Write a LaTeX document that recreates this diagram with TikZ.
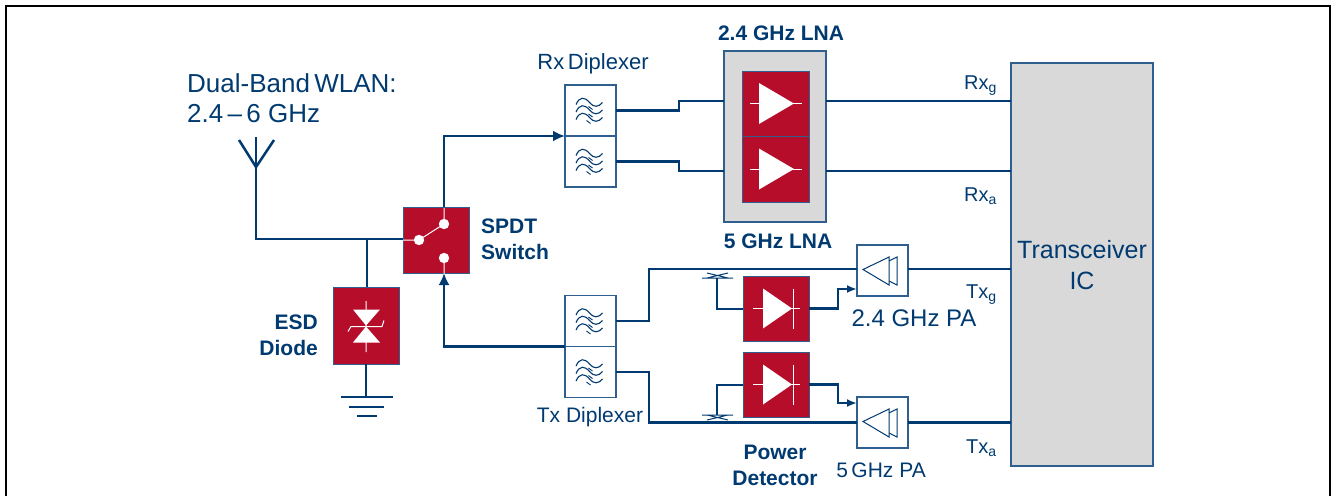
\documentclass[tikz,border=0pt]{standalone}
\usepackage{fontspec}
\setmainfont{Liberation Sans}
\usetikzlibrary{arrows.meta,positioning,calc}
\definecolor{RfNavy}{HTML}{003A70}
\definecolor{RfEdge}{HTML}{2F5F8F}
\definecolor{RfRed}{HTML}{B50D2A}
\definecolor{RfGray}{HTML}{D9D9D9}
\tikzset{
  wire/.style={draw=RfNavy,line width=2.5pt},
  feed/.style={wire,-{Latex[length=12pt,width=11pt]}},
  tap/.style={wire,-{Latex[length=10pt,width=8pt]}},
  redbox/.style={draw=RfEdge,line width=1pt,fill=RfRed,inner sep=0pt,outer sep=0pt},
  whitebox/.style={draw=RfEdge,line width=1.2pt,fill=white,inner sep=0pt,outer sep=0pt,minimum width=51pt,minimum height=51pt},
  graybox/.style={draw=RfEdge,line width=1.2pt,fill=RfGray,inner sep=0pt,outer sep=0pt},
  big/.style={text=RfNavy,align=center,inner sep=0pt,font=\fontsize{25}{31}\selectfont},
  small/.style={text=RfNavy,align=center,inner sep=0pt,font=\fontsize{21}{26}\selectfont},
  port/.style={text=RfNavy,inner sep=0pt,font=\fontsize{20}{24}\selectfont},
  heading/.style={text=RfNavy,align=center,inner sep=0pt,font=\bfseries\fontsize{21}{26}\selectfont},
  filtersym/.pic={
    \foreach \y in {-6,1.5,9}{\draw[RfNavy,line width=1.1pt] (-14.5,\y) .. controls (-11,\y-8) and (-6,\y-8) .. (-1,\y-2) .. controls (3,\y+3) and (8,\y+3) .. (12,\y-2);}
    \draw[RfNavy,line width=.9pt] (-2,-4)--(2,-1) (-2,3.5)--(2,6.5) (-4,10)--(0,13);
  },
  ampsym/.pic={
    \draw[white,line width=1pt] (-26,0)--(26,0);
    \fill[white] (-16.5,-20.5)--(18.5,0)--(-16.5,20.5)--cycle;
  },
  detsym/.pic={
    \draw[white,line width=1pt] (-23,0)--(24,0) (17,-20)--(17,20);
    \fill[white] (-13,-20)--(16,0)--(-13,20)--cycle;
  },
  pasym/.pic={
    \draw[RfNavy,line width=1pt,fill=white] (-19.5,-1)--(6.5,-13.5)--(6.5,14.5)--cycle;
    \draw[RfNavy,line width=1pt] (6.5,-9.5)--(14.5,-13.5)--(14.5,14.5)--(6.5,10.5);
  },
  couplersym/.pic={
    \draw[RfNavy,line width=1pt] (-15,0)--(16,0) (-10,-5)--(11,0) (-10,0)--(11,-5);
  },
  esdsym/.pic={
    \draw[white,line width=1pt] (0,-24.5)--(0,26.5) (-18,6)--(-15,1)--(16,1)--(18,-5);
    \fill[white] (-13,-16)--(14,-16)--(0,0)--cycle (-13,17)--(14,17)--(0,1)--cycle;
  },
  switchsym/.pic={
    \draw[white,line width=1pt] (-33,0)--(-17,0)--(8,-16)--(8,-32) (8,18)--(8,34);
    \fill[white] (-17,0) circle (5.2pt) (8,-16) circle (5.2pt) (8,18) circle (5.2pt);
  },
}
\begin{document}
\begin{tikzpicture}[x=1pt,y=-1pt]
  \useasboundingbox (0,0) rectangle (1332,496);
  \draw[black,line width=2.2pt] (6,496)--(6,6)--(1330,6)--(1330,496);
  % boxes
  \node[graybox,minimum width=142pt,minimum height=403pt] (ic) at (1082,264.5) {};
  \node[graybox,minimum width=102pt,minimum height=171pt] (lnabox) at (775,136.5) {};
  \node[redbox,minimum width=67pt,minimum height=65pt] (lnag) at (775.5,103.5) {};
  \node[redbox,minimum width=67pt,minimum height=66pt] (lnaa) at (775.5,169) {};
  \node[whitebox] (rxdipg) at (590.5,110.5) {};
  \node[whitebox,below=0pt of rxdipg] (rxdipa) {};
  \node[whitebox] (txdipg) at (590.5,321) {};
  \node[whitebox,below=0pt of txdipg] (txdipa) {};
  \node[whitebox] (pag) at (882.5,270.5) {};
  \node[whitebox] (paa) at (882.5,422.5) {};
  \node[redbox,minimum width=66pt,minimum height=65pt] (detg) at (776,308.5) {};
  \node[redbox,minimum width=66pt,minimum height=65pt] (deta) at (776,384.5) {};
  \node[redbox,minimum width=66pt,minimum height=66pt] (switch) at (436,240) {};
  \node[redbox,minimum width=66pt,minimum height=77pt] (esd) at (366,325.5) {};
  % free ends
  \coordinate (rxg) at (ic.west |- 0,101);
  \coordinate (rxa) at (ic.west |- 0,171);
  \coordinate (txg) at (ic.west |- 0,269);
  \coordinate (txa) at (ic.west |- 0,422.5);
  \coordinate (antfoot) at (256,137);
  \coordinate (antleft) at (239,140);
  \coordinate (antright) at (274,140);
  \coordinate (antneck) at (256,167);
  \coordinate (swtop) at (444,207);
  \coordinate (swbottom) at (444,273);
  \coordinate (tee) at (367,239);
  \coordinate (gnd) at (366,397);
  \coordinate (cplg) at (717,278);
  \coordinate (cpla) at (717,415);
  \coordinate (tapg) at (857,289);
  \coordinate (tapa) at (857,403);
  % connectors
  \draw[wire] (antfoot)--(antneck) |- (switch.west |- tee);
  \draw[wire,line join=miter] (antleft)--(antneck)--(antright);
  \draw[wire] (tee)--(esd.north -| tee);
  \draw[wire] (esd.south)--(gnd);
  \draw[wire] ($(gnd)+(-25,0)$)--($(gnd)+(27,0)$);
  \draw[wire] ($(gnd)+(-17,10)$)--($(gnd)+(18,10)$);
  \draw[wire] ($(gnd)+(-9,19)$)--($(gnd)+(11,19)$);
  \draw[feed] (swtop) |- (rxdipg.south west);
  \draw[feed] (txdipa.north west) -| (swbottom);
  \foreach \x/\y/\z in {rxdipg/rxg/lnabox,rxdipa/rxa/lnabox}{\draw[wire] (\x.east)--++(63,0) |- (\z.west |- \y);\draw[wire] (\z.east |- \y)--(\y);}
  \draw[wire] (txdipg.east)--++(33,0) |- (pag.west |- txg);
  \draw[wire] (txdipa.east)--++(33,0) |- (paa.west);
  \foreach \x/\y in {pag/txg,paa/txa}{\draw[wire] (\x.east |- \y)--(\y);}
  \draw[wire,line width=2pt] (detg.west) -| (cplg);
  \draw[wire,line width=2pt] (deta.west) -| (cpla);
  \draw[tap] (detg.east)--++(29,0) |- (tapg);
  \draw[tap] (deta.east)--++(29,0) |- (tapa);
  % symbols
  \foreach \x in {rxdipg,rxdipa,txdipg,txdipa}{\pic at (\x) {filtersym};}
  \foreach \x in {lnag,lnaa}{\pic at (\x) {ampsym};}
  \foreach \x in {detg,deta}{\pic at (\x) {detsym};}
  \foreach \x in {pag,paa}{\pic at (\x) {pasym};}
  \pic at (cplg) {couplersym};
  \pic[yscale=-1] at (cpla) {couplersym};
  \pic at (esd) {esdsym};
  \pic at (switch) {switchsym};
  % labels
  \node[big,align=left,anchor=west,font=\fontsize{26}{30}\selectfont] (ant) at (187,98) {Dual-Band\,WLAN:\\2.4\,–\,6 GHz};
  \node[big] (iclabel) at (ic.center |- 0,265) {Transceiver\\IC};
  \node[small,font=\fontsize{22}{26}\selectfont] (rxlabel) at (593,64) {Rx\,Diplexer};
  \node[small] (txlabel) at (590,417) {Tx Diplexer};
  \node[small,font=\fontsize{24}{26}\selectfont] (pagl) at (914,318) {2.4 GHz PA};
  \node[small] (paal) at (881,470) {5\,GHz PA};
  \node[heading] (lnagl) at (781,33) {2.4 GHz LNA};
  \node[heading] (lnaal) at (778,241) {5 GHz LNA};
  \node[heading,align=left,anchor=west] (swl) at (481,239) {SPDT\\Switch};
  \node[heading,align=right,anchor=east] (esdl) at (318,335) {ESD\\Diode};
  \node[heading] (detl) at (775,465) {Power\\Detector};
  \node[port,anchor=base west] (rxgl) at (964,89) {Rx\textsubscript{g}};
  \node[port,anchor=base west] (rxal) at (964,201) {Rx\textsubscript{a}};
  \node[port,anchor=base west] (txgl) at (966,298) {Tx\textsubscript{g}};
  \node[port,anchor=base west] (txal) at (966,453) {Tx\textsubscript{a}};
\end{tikzpicture}
\end{document}
